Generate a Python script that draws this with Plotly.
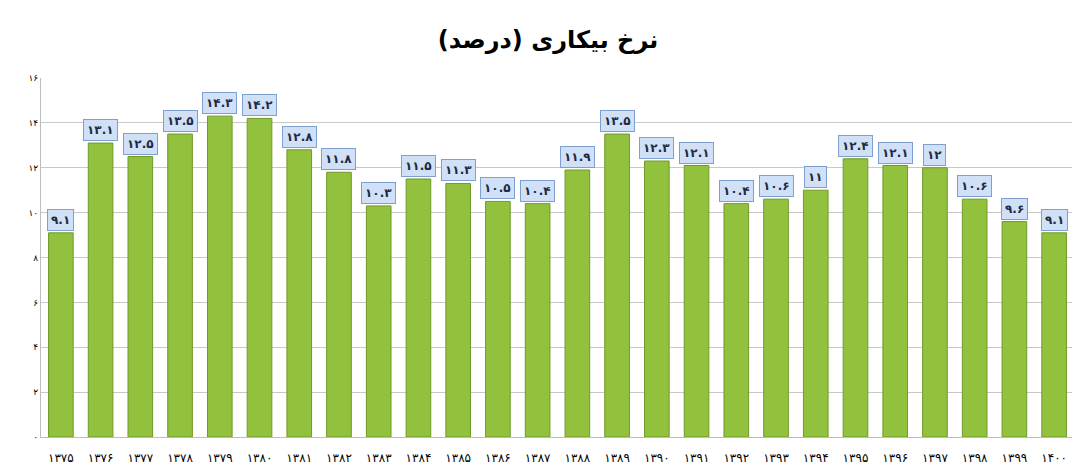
import plotly.graph_objects as go

years = [1375, 1376, 1377, 1378, 1379, 1380, 1381, 1382, 1383, 1384, 1385, 1386, 1387,
         1388, 1389, 1390, 1391, 1392, 1393, 1394, 1395, 1396, 1397, 1398, 1399, 1400]
unemployment = [9.1, 13.1, 12.5, 13.5, 14.3, 14.2, 12.8, 11.8, 10.3, 11.5, 11.3, 10.5, 10.4,
                11.9, 13.5, 12.3, 12.1, 10.4, 10.6, 11, 12.4, 12.1, 12, 10.6, 9.6, 9.1]
y_ticks = [0, 2, 4, 6, 8, 10, 12, 14, 16]

FA = str.maketrans("0123456789", "۰۱۲۳۴۵۶۷۸۹")


def fa(v):
    return str(v).translate(FA)


cats = [fa(y) for y in years]

fig = go.Figure(go.Bar(
    x=cats, y=unemployment, width=0.62,
    marker=dict(color="#92c13e", line=dict(color="#6f9a28", width=1)),
    hoverinfo="x+y",
))

for c, v in zip(cats, unemployment):
    fig.add_annotation(x=c, y=v, text="<b>" + fa(v) + "</b>", showarrow=False,
                       yanchor="bottom", yshift=2,
                       font=dict(family="DejaVu Sans", size=12, color="#1f2a44"),
                       bgcolor="#cfe0f7", bordercolor="#7fa0cf", borderwidth=1, borderpad=3)

fig.update_layout(
    width=1080, height=469,
    title=dict(text="<b>نرخ بیکاری (درصد)</b>", x=0.5, y=0.95, xanchor="center",
               font=dict(family="DejaVu Sans", size=24, color="black")),
    plot_bgcolor="white", paper_bgcolor="white",
    margin=dict(l=33, r=14, t=70, b=37),
    showlegend=False,
    bargap=0.38,
)
fig.update_xaxes(showline=True, linecolor="#bdbdbd", ticks="", ticklabelstandoff=10,
                 tickfont=dict(family="DejaVu Sans", size=12, color="black"))
fig.update_yaxes(range=[0, 16], tickvals=y_ticks, ticktext=[fa(t) for t in y_ticks],
                 showgrid=True, gridcolor="#c8c8c8", showline=True, linecolor="#bdbdbd",
                 mirror=True, zeroline=False,
                 tickfont=dict(family="DejaVu Sans", size=9, color="black"))

fig.write_html("out.html")
